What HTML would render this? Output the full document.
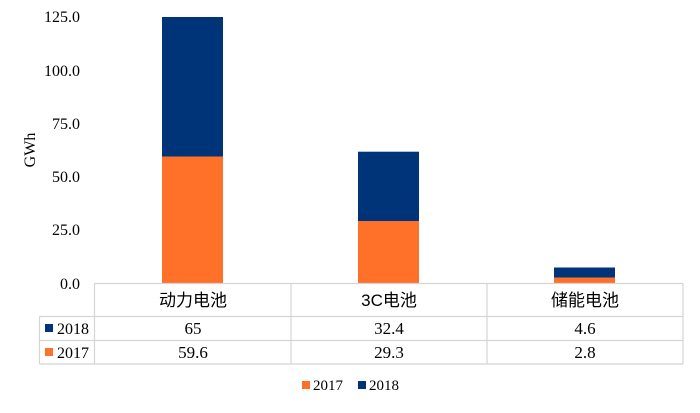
<!DOCTYPE html>
<html><head><meta charset="utf-8"><style>
body{margin:0;background:#fff;}
svg text{font-family:"Liberation Serif","Noto Serif CJK SC",serif;fill:#000;}
.cjk{font-family:"Liberation Sans","Noto Sans CJK SC",sans-serif;}
</style></head><body>
<svg width="700" height="408" xmlns="http://www.w3.org/2000/svg">
<g font-size="16" text-anchor="end">
<text x="80" y="22">125.0</text>
<text x="80" y="76">100.0</text>
<text x="80" y="129">75.0</text>
<text x="80" y="182">50.0</text>
<text x="80" y="235">25.0</text>
<text x="80" y="289">0.0</text>
</g>
<text x="0" y="0" font-size="16" text-anchor="middle" transform="translate(35,150) rotate(-90)">GWh</text>
<rect x="162" y="17" width="61" height="139.5" fill="#003478"/>
<rect x="162" y="156.5" width="61" height="127" fill="#FF7128"/>
<rect x="358" y="151.7" width="61" height="69.3" fill="#003478"/>
<rect x="358" y="221" width="61" height="62.5" fill="#FF7128"/>
<rect x="554" y="267.5" width="61" height="10" fill="#003478"/>
<rect x="554" y="277.5" width="61" height="6" fill="#FF7128"/>
<g stroke="#d4d4d4" stroke-width="1.2" fill="none">
<line x1="94.5" y1="283.5" x2="683" y2="283.5"/>
<line x1="39.5" y1="316.5" x2="683" y2="316.5"/>
<line x1="39.5" y1="340.5" x2="683" y2="340.5"/>
<line x1="39.5" y1="364" x2="683" y2="364"/>
<line x1="39.5" y1="316.5" x2="39.5" y2="364"/>
<line x1="94.5" y1="283.5" x2="94.5" y2="364"/>
<line x1="291" y1="283.5" x2="291" y2="364"/>
<line x1="487" y1="283.5" x2="487" y2="364"/>
<line x1="683" y1="283.5" x2="683" y2="364"/>
</g>
<g font-size="17" text-anchor="middle">
<text class="cjk" x="193" y="306">动力电池</text>
<text class="cjk" x="389" y="306">3C电池</text>
<text class="cjk" x="585" y="306">储能电池</text>
</g>
<g font-size="17" text-anchor="middle">
<text x="193" y="334">65</text><text x="389" y="334">32.4</text><text x="585" y="334">4.6</text>
<text x="193" y="358">59.6</text><text x="389" y="358">29.3</text><text x="585" y="358">2.8</text>
</g>
<rect x="45" y="324" width="8" height="8" fill="#003478"/>
<text x="57" y="334" font-size="16">2018</text>
<rect x="45" y="348" width="8" height="8" fill="#FF7128"/>
<text x="57" y="358" font-size="16">2017</text>
<rect x="302" y="381" width="8" height="8" fill="#FF7128"/>
<text x="313" y="390" font-size="15">2017</text>
<rect x="358" y="381" width="8" height="8" fill="#003478"/>
<text x="369" y="390" font-size="15">2018</text>
</svg>
</body></html>
